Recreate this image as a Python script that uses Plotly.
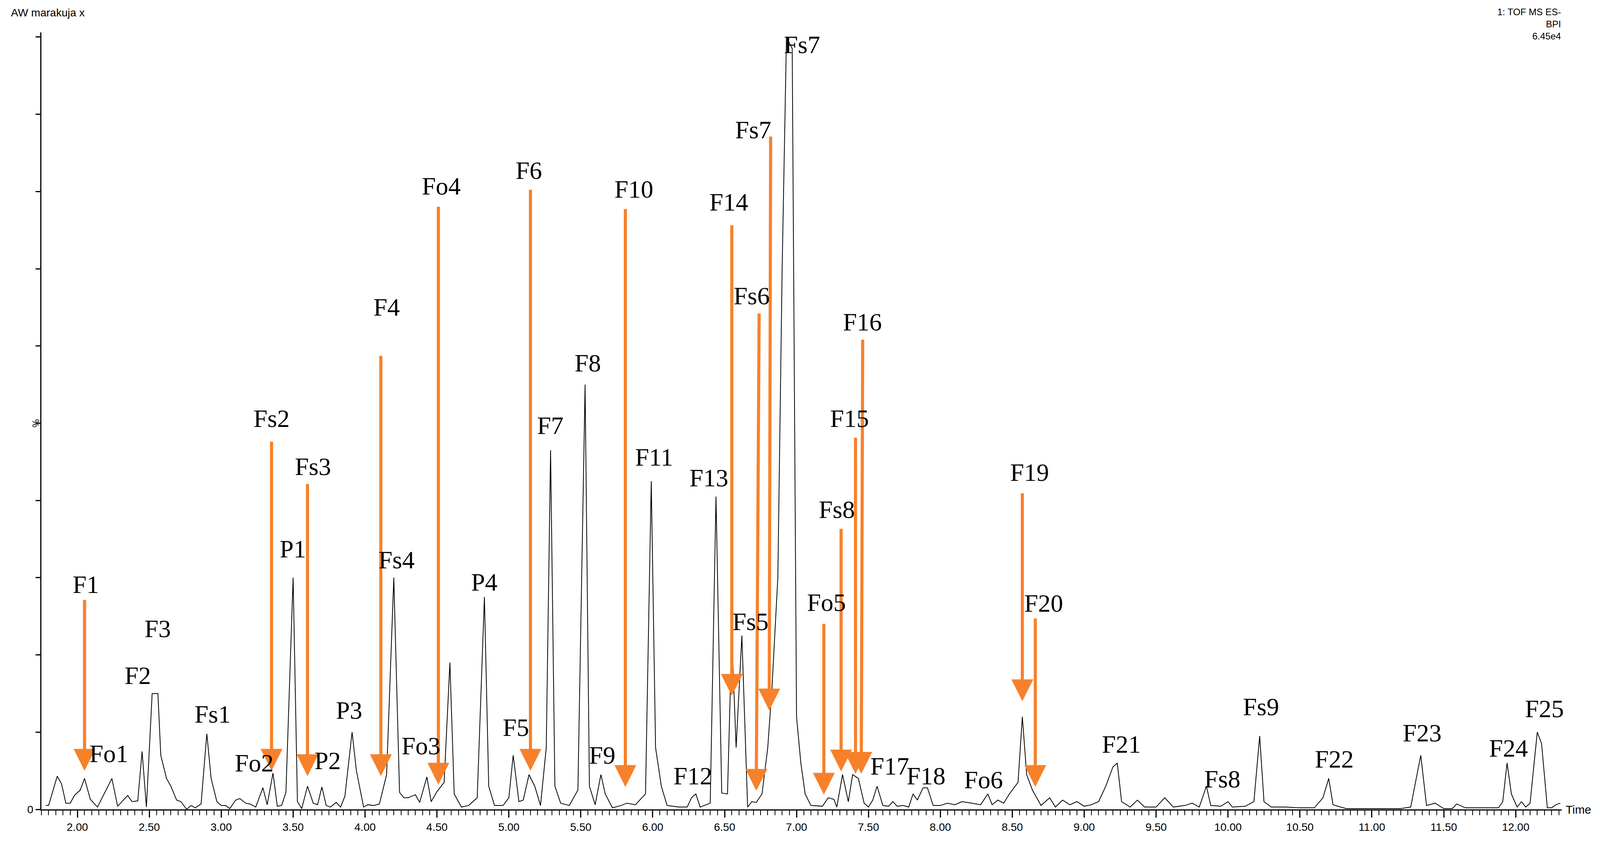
import plotly.graph_objects as go

# chromatogram trace (time in min, intensity in % of 6.45e4)
times = [1.78,1.80,1.86,1.89,1.92,1.95,1.98,2.02,2.05,2.09,2.14,2.18,2.24,2.28,2.31,2.35,2.38,2.42,2.45,2.48,
 2.52,2.56,2.58,2.62,2.65,2.69,2.72,2.76,2.79,2.82,2.86,2.90,2.93,2.97,3.00,3.03,3.06,3.10,3.13,3.17,
 3.20,3.24,3.29,3.32,3.36,3.39,3.42,3.45,3.50,3.53,3.56,3.60,3.64,3.67,3.70,3.73,3.76,3.80,3.83,3.86,
 3.91,3.94,3.99,4.02,4.06,4.10,4.15,4.20,4.24,4.27,4.30,4.35,4.38,4.43,4.46,4.50,4.55,4.59,4.62,4.67,
 4.72,4.78,4.83,4.86,4.90,4.96,5.00,5.03,5.07,5.10,5.14,5.18,5.22,5.26,5.29,5.32,5.36,5.42,5.48,5.53,
 5.56,5.60,5.64,5.67,5.72,5.78,5.82,5.88,5.95,5.99,6.02,6.06,6.10,6.18,6.24,6.27,6.30,6.33,6.40,6.44,
 6.48,6.52,6.55,6.58,6.62,6.66,6.69,6.72,6.76,6.80,6.83,6.87,6.90,6.93,6.97,7.00,7.03,7.06,7.10,7.18,
 7.22,7.26,7.28,7.32,7.36,7.39,7.43,7.47,7.50,7.53,7.56,7.60,7.64,7.67,7.70,7.74,7.78,7.81,7.84,7.88,
 7.91,7.95,8.00,8.05,8.10,8.15,8.22,8.28,8.33,8.36,8.40,8.44,8.48,8.54,8.57,8.60,8.64,8.70,8.76,8.80,
 8.85,8.90,8.95,9.00,9.05,9.10,9.15,9.20,9.23,9.26,9.32,9.37,9.42,9.50,9.56,9.62,9.70,9.75,9.80,9.85,
 9.88,9.95,10.00,10.03,10.12,10.18,10.22,10.25,10.30,10.40,10.50,10.60,10.66,10.70,10.73,10.82,10.90,11.00,11.20,11.27,
 11.34,11.38,11.44,11.50,11.56,11.59,11.65,11.80,11.88,11.91,11.94,11.97,12.01,12.04,12.07,12.10,12.15,12.18,12.22,12.25,
 12.28,12.31]
intensity = [0.5,0.5,4.3,3.3,0.8,0.8,1.8,2.5,4.0,1.3,0.3,1.8,4.0,0.4,1.0,1.8,1.0,1.1,7.5,0.3,
 15.0,15.0,7.0,4.0,3.0,1.2,1.0,0.0,0.5,0.2,0.7,9.8,4.0,1.0,0.5,0.5,0.1,1.2,1.4,0.8,
 0.7,0.3,2.8,0.6,4.7,0.4,0.5,2.2,30.0,1.0,0.1,3.0,0.8,0.6,2.9,0.5,0.3,0.9,0.3,1.7,
 10.0,5.0,0.3,0.6,0.5,0.7,4.5,30.0,2.2,1.5,1.5,1.9,0.9,4.2,1.0,2.3,3.5,19.0,2.0,0.3,
 0.5,1.5,27.5,3.0,0.5,0.5,1.5,7.0,1.0,1.2,4.5,3.0,0.5,8.0,46.5,3.0,0.8,0.5,2.5,55.0,
 3.0,0.6,4.5,2.0,0.2,0.5,0.8,0.6,2.0,42.5,8.0,3.0,0.5,0.3,0.3,1.5,2.0,0.3,0.8,40.5,
 2.1,2.0,22.5,8.0,22.5,0.3,1.0,0.9,2.0,8.0,16.0,30.0,70.0,100.0,98.5,12.0,6.0,2.0,0.5,0.4,
 1.5,1.3,0.3,4.5,1.0,4.5,4.0,0.8,0.3,1.2,3.0,0.5,0.4,1.0,0.4,0.5,0.3,2.0,1.2,2.8,
 2.8,0.5,0.5,0.8,0.6,1.0,0.8,0.6,2.0,0.6,1.2,0.8,2.0,3.5,12.0,4.5,2.5,0.5,1.5,0.3,
 1.2,0.6,1.0,0.4,0.6,1.0,3.0,5.5,6.0,1.0,0.3,1.2,0.3,0.3,1.5,0.3,0.5,0.8,0.3,3.0,
 0.5,0.4,1.0,0.3,0.4,1.0,9.5,1.0,0.3,0.3,0.2,0.2,1.5,4.0,0.6,0.1,0.1,0.1,0.1,0.3,
 7.0,0.5,0.8,0.1,0.1,0.7,0.2,0.2,0.2,1.0,6.0,2.0,0.3,1.0,0.3,0.8,10.0,8.5,0.2,0.2,
 0.6,0.8]

# peak labels
label_names = ["F1","Fo1","F2","F3","Fs1","Fo2","Fs2","Fs3","P2","P1","P3","F4","Fs4","Fo3","Fo4","P4","F5","F6",
 "F7","F8","F9","F10","F11","F12","F13","F14","Fs5","Fs6","Fs7","Fs7","Fo5","Fs8","F15","F16","F17","F18","Fo6",
 "F19","F20","F21","Fs8","Fs9","F22","F23","F24","F25"]
label_times = [2.06,2.22,2.42,2.56,2.94,3.23,3.35,3.64,3.74,3.50,3.89,4.15,4.22,4.39,4.53,4.83,5.05,5.14,
 5.29,5.55,5.65,5.87,6.01,6.28,6.39,6.53,6.68,6.69,6.70,7.04,7.21,7.28,7.37,7.46,7.65,7.90,8.30,
 8.62,8.72,9.26,9.96,10.23,10.74,11.35,11.95,12.20]
label_levels = [29.1,7.2,17.3,23.4,12.3,6.0,50.6,44.4,6.3,33.7,12.8,65.0,32.3,8.2,80.7,29.4,10.6,82.7,
 49.7,57.8,7.0,80.3,45.6,4.3,42.9,78.6,24.3,66.5,88.0,99.0,26.8,38.8,50.6,63.1,5.6,4.3,3.8,
 43.6,26.7,8.4,3.9,13.3,6.5,9.9,7.9,13.0]

# orange arrows: tip time/level and tail time/level
arrow_tip_t = [2.05,3.35,3.60,4.11,4.51,5.15,5.81,6.55,6.72,6.81,7.19,7.31,7.41,7.45,8.57,8.66]
arrow_tip_y = [5.0,5.0,4.3,4.3,3.2,5.0,2.9,14.7,2.4,12.8,1.9,4.9,4.6,4.6,14.0,2.9]
arrow_tail_t = [2.05,3.35,3.60,4.11,4.51,5.15,5.81,6.55,6.74,6.82,7.19,7.31,7.41,7.46,8.57,8.66]
arrow_tail_y = [27.2,47.7,42.2,58.8,78.1,80.3,77.8,75.7,64.3,87.2,24.1,36.4,48.2,60.9,41.0,24.8]

fig = go.Figure(go.Scatter(x=times, y=intensity, mode="lines",
                           line=dict(color="black", width=2), hoverinfo="skip"))

anns = []
for t, ty, at, ay in zip(arrow_tip_t, arrow_tip_y, arrow_tail_t, arrow_tail_y):
    anns.append(dict(x=t, y=ty, ax=at, ay=ay, xref="x", yref="y", axref="x", ayref="y",
                     showarrow=True, arrowhead=2, arrowsize=1.4, arrowwidth=8,
                     arrowcolor="#F7812A", text=""))
for n, t, lv in zip(label_names, label_times, label_levels):
    anns.append(dict(x=t, y=lv, xref="x", yref="y", text=n, showarrow=False,
                     font=dict(family="Liberation Serif", size=64, color="black")))
anns += [
    dict(x=0, y=1, xref="paper", yref="paper", xshift=-80, yshift=68, text="AW marakuja x", showarrow=False,
         xanchor="left", yanchor="top", font=dict(family="Liberation Sans", size=28, color="black")),
    dict(x=1, y=1, xref="paper", yref="paper", xanchor="right", yanchor="top", yshift=68,
         text="1: TOF MS ES-<br>BPI<br>6.45e4", align="right", showarrow=False,
         font=dict(family="Liberation Sans", size=24, color="black")),
    dict(x=1, y=0, xref="paper", yref="y", xshift=8, text="Time", xanchor="left", yanchor="middle",
         showarrow=False, font=dict(family="Liberation Sans Narrow, Liberation Sans", size=30, color="black")),
    dict(x=0, y=50, xref="paper", yref="y", xshift=-30, text="%", showarrow=False,
         font=dict(family="Liberation Sans", size=24, color="black"), textangle=90),
]

fig.update_layout(
    autosize=True, paper_bgcolor="white", plot_bgcolor="white",
    margin=dict(l=98, r=90, t=75, b=60), showlegend=False, annotations=anns,
    xaxis=dict(range=[1.75, 12.32], tickvals=[2 + 0.5 * i for i in range(21)],
               ticktext=["%.2f" % (2 + 0.5 * i) for i in range(21)],
               ticks="outside", ticklen=18, tickwidth=3, tickcolor="black",
               minor=dict(dtick=0.05, tick0=2, ticks="outside", ticklen=12, tickwidth=2, tickcolor="black"),
               showline=True, linecolor="black", linewidth=3, showgrid=False, zeroline=False,
               tickfont=dict(family="Liberation Sans Narrow, Liberation Sans", size=28, color="black")),
    yaxis=dict(range=[0, 100.6], tickvals=[0], ticktext=["0"], ticks="outside", ticklen=12,
               tickwidth=3, tickcolor="black",
               minor=dict(dtick=10, tick0=0, ticks="outside", ticklen=12, tickwidth=3, tickcolor="black"),
               showline=True, linecolor="black", linewidth=3, showgrid=False, zeroline=False,
               tickfont=dict(family="Liberation Sans Narrow, Liberation Sans", size=28, color="black")),
)
fig.write_html("out.html", config={"responsive": True})
